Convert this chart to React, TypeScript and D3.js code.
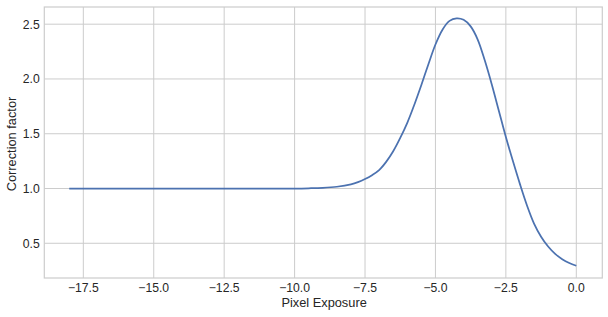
import React from "react";
import * as d3 from "d3";

const exposure = [
  -18, -16, -14, -12, -10, -9.5, -9, -8.5, -8, -7.75, -7.5, -7.25, -7, -6.75, -6.5, -6.25, -6, -5.75,
  -5.5, -5.25, -5, -4.75, -4.5, -4.25, -4, -3.75, -3.5, -3.25, -3, -2.75, -2.5, -2.25, -2, -1.75, -1.5,
  -1.25, -1, -0.75, -0.5, -0.25, 0,
];
const correction = [
  1.0, 1.0, 1.0, 1.0, 1.0, 1.002, 1.006, 1.016, 1.038, 1.058, 1.086, 1.122, 1.168, 1.243, 1.34,
  1.462, 1.6, 1.765, 1.945, 2.135, 2.315, 2.45, 2.53, 2.553, 2.54, 2.48, 2.36, 2.17, 1.95, 1.71, 1.47,
  1.25, 1.04, 0.845, 0.68, 0.56, 0.47, 0.403, 0.355, 0.32, 0.295,
];
const xTicks = [-17.5, -15, -12.5, -10, -7.5, -5, -2.5, 0];
const yTicks = [0.5, 1.0, 1.5, 2.0, 2.5];
const xLabel = "Pixel Exposure";
const yLabel = "Correction factor";

const W = 608;
const H = 317;
const left = 44.3;
const right = 602.3;
const top = 7;
const bottom = 278;

export default function App() {
  const x = d3.scaleLinear().domain([-18.885, 0.923]).range([left, right]);
  const y = d3.scaleLinear().domain([0.183, 2.657]).range([bottom, top]);
  const pts = exposure.map((e, i) => [e, correction[i]] as [number, number]);
  const line = d3
    .line<[number, number]>()
    .x((d) => x(d[0]))
    .y((d) => y(d[1]))
    .curve(d3.curveCatmullRom.alpha(0.5));
  const fmt = (v: number) => v.toFixed(1).replace("-", "\u2212");
  const grid = "#cccccc";
  const txt = "#262626";
  const font = "'Liberation Sans', Arial, sans-serif";
  return (
    <svg
      width={W}
      height={H}
      style={{ position: "absolute", left: 0, top: 0, background: "#fff" }}
      fontFamily={font}
    >
      {xTicks.map((t) => (
        <line key={"gx" + t} x1={x(t)} x2={x(t)} y1={top} y2={bottom} stroke={grid} strokeWidth={1} />
      ))}
      {yTicks.map((t) => (
        <line key={"gy" + t} x1={left} x2={right} y1={y(t)} y2={y(t)} stroke={grid} strokeWidth={1} />
      ))}
      <rect x={left} y={top} width={right - left} height={bottom - top} fill="none" stroke={grid} strokeWidth={1.2} />
      <path d={line(pts) || ""} fill="none" stroke="#4c72b0" strokeWidth={1.75} />
      {xTicks.map((t) => (
        <text key={"tx" + t} x={x(t)} y={292} textAnchor="middle" fontSize={12.2} fill={txt}>
          {fmt(t)}
        </text>
      ))}
      {yTicks.map((t) => (
        <text key={"ty" + t} x={39.8} y={y(t)} dy="0.36em" textAnchor="end" fontSize={12.2} fill={txt}>
          {fmt(t)}
        </text>
      ))}
      <text x={(left + right) / 2 + 0.8} y={306.5} textAnchor="middle" fontSize={12.8} fill={txt}>
        {xLabel}
      </text>
      <text
        transform={`translate(15.8, 144) rotate(-90)`}
        textAnchor="middle"
        fontSize={12.8}
        fill={txt}
      >
        {yLabel}
      </text>
    </svg>
  );
}
